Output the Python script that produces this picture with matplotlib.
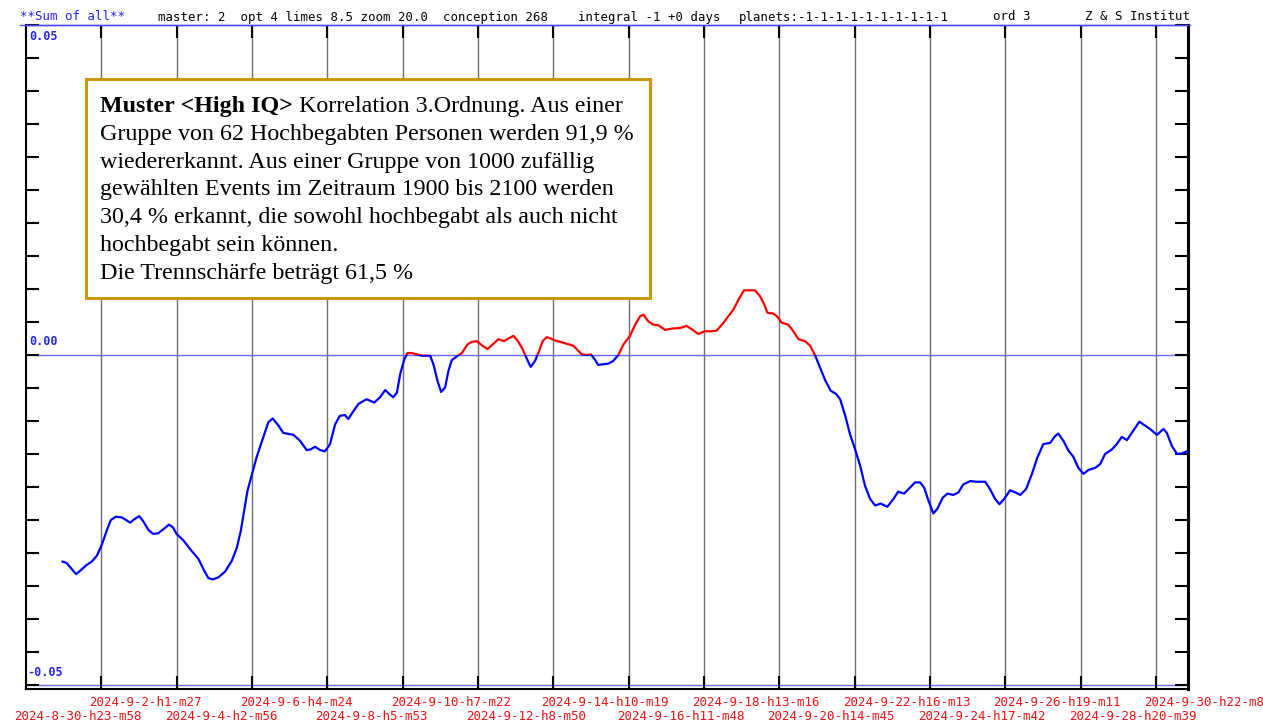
import numpy as np
import matplotlib.pyplot as plt
from matplotlib.patches import Rectangle
import matplotlib.transforms as mtransforms

W, H = 1263, 722

# time in days since 2024-8-30 23:58 and summed correlation value
days = [1.00, 1.11, 1.37, 1.50, 1.66, 1.80, 1.94, 2.07, 2.21, 2.32,
        2.46, 2.62, 2.74, 2.85, 2.96, 3.10, 3.21, 3.35, 3.48, 3.62,
        3.78, 3.91, 4.02, 4.12, 4.31, 4.49, 4.72, 4.87, 4.99, 5.11,
        5.26, 5.45, 5.63, 5.77, 5.88, 5.97, 6.06,
        6.31, 6.49, 6.63, 6.75, 6.91, 7.04, 7.32, 7.50, 7.68, 7.79, 7.91, 8.05, 8.18, 8.32,
        8.46, 8.59, 8.73, 8.82, 8.96, 9.10, 9.32, 9.53, 9.69, 9.83, 9.94, 10.05, 10.15, 10.24, 10.35,
        10.44, 10.56, 10.69, 10.83, 11.06, 11.15, 11.26, 11.36, 11.47, 11.56, 11.65, 11.79, 11.93,
        12.08, 12.20, 12.34, 12.47, 12.63, 12.79, 12.93, 13.08, 13.20, 13.34,
        13.45, 13.59, 13.70, 13.81, 13.93, 14.05, 14.14, 14.25, 14.36, 14.48,
        14.62, 14.80, 14.98, 15.12, 15.21, 15.35, 15.46, 15.57, 15.66, 15.80,
        15.94, 16.07, 16.21, 16.35,
        16.53, 16.67, 16.81, 16.90, 17.03, 17.17, 17.31, 17.49, 17.67, 17.90,
        18.08, 18.22, 18.40, 18.58, 18.77, 18.90, 19.09, 19.36, 19.50, 19.65,
        19.82, 19.95, 20.09, 20.20, 20.29, 20.44, 20.55, 20.68, 20.86, 21.00,
        21.14, 21.32, 21.46, 21.59,
        21.73, 21.87, 22.02, 22.17, 22.28, 22.42, 22.55, 22.69, 22.83, 22.96,
        23.10, 23.24, 23.39, 23.57, 23.74, 23.87, 24.03, 24.19,
        24.33, 24.47, 24.58, 24.70, 24.83, 24.94,
        25.09, 25.22, 25.38, 25.52, 25.65, 25.84,
        26.02, 26.25, 26.38, 26.52, 26.64, 26.77, 26.93,
        27.07, 27.21, 27.37, 27.53, 27.68, 27.84,
        28.03, 28.16, 28.25, 28.39, 28.53, 28.66, 28.80, 28.94,
        29.08, 29.26, 29.40, 29.53, 29.72, 29.85, 29.99,
        30.13, 30.26, 30.47, 30.63, 30.76, 30.95,
        31.13, 31.22, 31.36, 31.50, 31.63, 31.77]

values = [-0.0313, -0.0315, -0.0332, -0.0326, -0.0318, -0.0313, -0.0304, -0.0288, -0.0266, -0.0250,
          -0.0245, -0.0246, -0.0250, -0.0254, -0.0249, -0.0244, -0.0252, -0.0265, -0.0271, -0.0270,
          -0.0263, -0.0257, -0.0261, -0.0271, -0.0281, -0.0294, -0.0309, -0.0326, -0.0338, -0.0340,
          -0.0337, -0.0328, -0.0312, -0.0292, -0.0266, -0.0236, -0.0206,
          -0.0155, -0.0125, -0.0102, -0.0096, -0.0107, -0.0118, -0.0121, -0.0130, -0.0144, -0.0143,
          -0.0139, -0.0144, -0.0146, -0.0135,
          -0.0105, -0.0092, -0.0091, -0.0097, -0.0085, -0.0074, -0.0067, -0.0072, -0.0064, -0.0053,
          -0.0059, -0.0064, -0.0057, -0.0029, -0.0007,
          0.0003, 0.0003, 0.0001, -0.0001, -0.0001, -0.0014, -0.0039, -0.0056, -0.0049, -0.0024,
          -0.0008, -0.0002, 0.0003,
          0.0016, 0.0020, 0.0021, 0.0015, 0.0009, 0.0017, 0.0024, 0.0021, 0.0025, 0.0029,
          0.0022, 0.0009, -0.0005, -0.0018, -0.0009, 0.0007, 0.0021, 0.0027, 0.0025, 0.0022,
          0.0020, 0.0017, 0.0014, 0.0006, 0.0001, 0.0000, 0.0001, -0.0007, -0.0015, -0.0014,
          -0.0013, -0.0009, 0.0000, 0.0016,
          0.0029, 0.0046, 0.0059, 0.0061, 0.0051, 0.0046, 0.0045, 0.0038, 0.0040, 0.0041,
          0.0044, 0.0039, 0.0032, 0.0036, 0.0036, 0.0037, 0.0049, 0.0069, 0.0084, 0.0098,
          0.0098, 0.0098, 0.0089, 0.0077, 0.0064, 0.0063, 0.0059, 0.0049, 0.0046, 0.0036,
          0.0024, 0.0021, 0.0014, 0.0000,
          -0.0019, -0.0038, -0.0054, -0.0059, -0.0067, -0.0092, -0.0120, -0.0143, -0.0168, -0.0198,
          -0.0218, -0.0228, -0.0225, -0.0230, -0.0218, -0.0207, -0.0210, -0.0201,
          -0.0193, -0.0193, -0.0201, -0.0221, -0.0240, -0.0233,
          -0.0216, -0.0210, -0.0212, -0.0208, -0.0196, -0.0191,
          -0.0192, -0.0192, -0.0203, -0.0218, -0.0226, -0.0218, -0.0205,
          -0.0208, -0.0212, -0.0203, -0.0180, -0.0155, -0.0135,
          -0.0133, -0.0123, -0.0119, -0.0130, -0.0145, -0.0154, -0.0171, -0.0180,
          -0.0174, -0.0171, -0.0165, -0.0150, -0.0143, -0.0135, -0.0124,
          -0.0129, -0.0118, -0.0101, -0.0107, -0.0112, -0.0121,
          -0.0112, -0.0118, -0.0138, -0.0150, -0.0149, -0.0146]

# grid spacing: 2 d 1 h 29 min
step_days = 2.0618
date_labels = ["2024-8-30-h23-m58", "2024-9-2-h1-m27", "2024-9-4-h2-m56", "2024-9-6-h4-m24",
               "2024-9-8-h5-m53", "2024-9-10-h7-m22", "2024-9-12-h8-m50", "2024-9-14-h10-m19",
               "2024-9-16-h11-m48", "2024-9-18-h13-m16", "2024-9-20-h14-m45", "2024-9-22-h16-m13",
               "2024-9-24-h17-m42", "2024-9-26-h19-m11", "2024-9-28-h20-m39", "2024-9-30-h22-m8"]

header_parts = [("**Sum of all**", 20, '#2020ff'),
                ("master: 2  opt 4 limes 8.5 zoom 20.0  conception 268", 158, 'black'),
                ("integral -1 +0 days", 578, 'black'),
                ("planets:-1-1-1-1-1-1-1-1-1-1", 739, 'black'),
                ("ord 3", 993, 'black'),
                ("Z & S Institut", 1085, 'black')]

box_lines = ["Gruppe von 62 Hochbegabten Personen werden 91,9 %",
             "wiedererkannt. Aus einer Gruppe von 1000 zufällig",
             "gewählten Events im Zeitraum 1900 bis 2100 werden",
             "30,4 % erkannt, die sowohl hochbegabt als auch nicht",
             "hochbegabt sein können.",
             "Die Trennschärfe beträgt 61,5 %"]


def fx(px):
    return px / W


def fy(py):
    return 1 - py / H


fig = plt.figure(figsize=(W / 100, H / 100), dpi=100)
ax = fig.add_axes([fx(26), fy(689), fx(1188) - fx(26), fy(25) - fy(689)])
ax.set_xlim(0, 31.80)
ax.set_ylim(-0.0506, 0.05)

mono = 'DejaVu Sans Mono'

# grid
tick_days = [i * step_days for i in range(len(date_labels))]
for t in tick_days[1:]:
    ax.axvline(t, color='#6e6e6e', lw=1.0, zorder=1)
ax.axhline(0, color='#6a6aff', lw=1.0, zorder=1)
ax.axhline(-0.05, color='#6a6aff', lw=1.0, zorder=1)
# blue rule under the header, slightly wider than the frame
fig.add_artist(plt.Line2D([fx(20), fx(1190)], [fy(25), fy(25)], color='#4a4aff', lw=1.0))

# curve: red above zero, blue below
red, = ax.plot(days, values, color='#ff0000', lw=1.6, zorder=3)
blue, = ax.plot(days, values, color='#0000ff', lw=1.6, zorder=3)
red.set_clip_path(Rectangle((-1, 0), 40, 1, transform=ax.transData))
blue.set_clip_path(Rectangle((-1, -1), 40, 1, transform=ax.transData))

# axes frame and ticks
for side in ['left', 'bottom']:
    ax.spines[side].set_linewidth(1.5)
    ax.spines[side].set_color('black')
ax.spines['right'].set_linewidth(2.2)
ax.spines['top'].set_color('#4a4aff')
ax.spines['top'].set_linewidth(1.0)

ax.set_xticks(tick_days)
ax.set_yticks(np.arange(-0.05, 0.0501, 0.005))
ax.tick_params(direction='in', length=9.5, width=1.5, color='black',
               top=True, right=True, labelbottom=False, labelleft=False)

# y labels
for txt, py in [("0.05", 37), ("0.00", 342), ("-0.05", 672)]:
    fig.text(fx(27 if txt.startswith('-') else 29), fy(py), txt, color='#2626e6',
             family=mono, fontsize=8.5, fontweight='bold', va='center')

# date labels, alternating rows
trans = mtransforms.blended_transform_factory(ax.transData, fig.transFigure)
trans = mtransforms.offset_copy(trans, fig=fig, x=-12, y=0, units='dots')
for i, (t, lab) in enumerate(zip(tick_days, date_labels)):
    py = 702 if i % 2 else 716
    ax.text(t, fy(py), lab, transform=trans, color='#ee1111', family=mono,
            fontsize=9, va='center', ha='left', clip_on=False)

# header
for txt, px, col in header_parts:
    fig.text(fx(px), fy(17), txt, color=col, family=mono, fontsize=8.9, va='center')

# text box
ax.add_patch(Rectangle((fx(86), fy(298)), fx(650) - fx(86), fy(79) - fy(298),
                       transform=fig.transFigure, facecolor='white', edgecolor='#c9960c',
                       lw=2.2, zorder=10, clip_on=False))
serif = 'Liberation Serif'
fs = 17.3
bold = ax.text(fx(100), fy(112), "Muster <High IQ>", transform=fig.transFigure,
               family=serif, fontsize=fs, fontweight='bold', va='baseline',
               zorder=11, clip_on=False)
ax.annotate(" Korrelation 3.Ordnung. Aus einer", xy=(1, 0), xycoords=bold,
            va='bottom', ha='left', family=serif, fontsize=fs, zorder=11,
            annotation_clip=False)
for k, line in enumerate(box_lines):
    ax.text(fx(100), fy(112 + 27.8 * (k + 1)), line, transform=fig.transFigure,
            family=serif, fontsize=fs, va='baseline', zorder=11, clip_on=False)

fig.savefig('out.png', dpi=100)
